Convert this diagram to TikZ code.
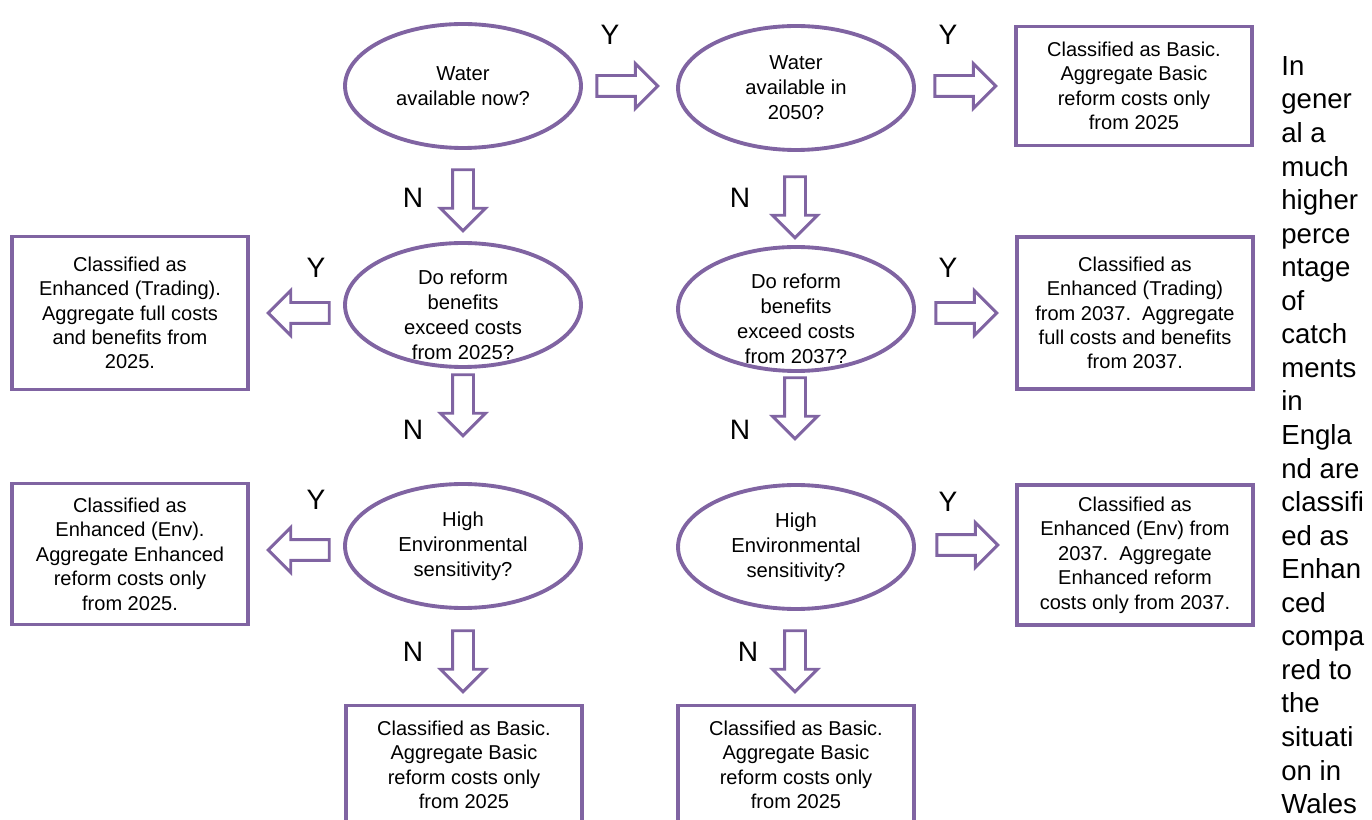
\documentclass[tikz,border=0pt]{standalone}
\usepackage{fontspec}
\setmainfont{Liberation Sans}
\usetikzlibrary{shapes.geometric,shapes.arrows}
\definecolor{framepurple}{RGB}{128,100,162}

\begin{document}
\begin{tikzpicture}[x=0.02cm,y=-0.02cm,
  question/.style={ellipse,draw=framepurple,line width=2.2pt,minimum width=4.72cm,
                   minimum height=2.48cm,inner sep=0pt,align=center,
                   font=\fontsize{11.5}{14.2}\selectfont},
  qtext/.style={align=center,inner sep=0pt,font=\fontsize{11.5}{14.2}\selectfont},
  outcome/.style={rectangle,draw=framepurple,line width=2.2pt,minimum width=4.72cm,
                  inner sep=0pt,align=center,font=\fontsize{11.4}{13.9}\selectfont},
  blockarr/.style={single arrow,draw=framepurple,line width=1.7pt,minimum height=1.22cm,
                   inner xsep=0pt,inner ysep=0.18cm,single arrow head extend=0.24cm},
  downarr/.style={blockarr,shape border rotate=270,inner xsep=0.18cm,inner ysep=0pt}
]
\useasboundingbox (0,0) rectangle (1372,820);
\clip (0,0) rectangle (1372,820);

\node[question] (q1) at (463,86)  {Water\\available now?};
\node[question] (q2) at (796,88)  {Water\\available in\\2050?};
\node[question,label={[qtext,yshift=-0.2cm]center:{Do reform\\benefits\\exceed costs\\from 2025?}}]
  (q3) at (463,305) {};
\node[question,label={[qtext,yshift=-0.2cm]center:{Do reform\\benefits\\exceed costs\\from 2037?}}]
  (q4) at (796,309) {};
\node[question] (q5) at (463,546) {High\\Environmental\\sensitivity?};
\node[question] (q6) at (796,547) {High\\Environmental\\sensitivity?};

\node[outcome,minimum height=2.38cm] (r1) at (1134,86)
  {Classified as Basic.\\Aggregate Basic\\reform costs only\\from 2025};
\node[outcome,minimum height=3.06cm] (l1) at (130,313)
  {Classified as\\Enhanced (Trading).\\Aggregate full costs\\and benefits from\\2025.};
\node[outcome,minimum height=3.04cm] (r2) at (1135,313)
  {Classified as\\Enhanced (Trading)\\from 2037.\ \ Aggregate\\full costs and benefits\\from 2037.};
\node[outcome,minimum height=2.82cm] (l2) at (130,554)
  {Classified as\\Enhanced (Env).\\Aggregate Enhanced\\reform costs only\\from 2025.};
\node[outcome,minimum height=2.80cm] (r3) at (1135,555)
  {Classified as\\Enhanced (Env) from\\2037.\ \ Aggregate\\Enhanced reform\\costs only from 2037.};
\node[outcome,minimum height=2.38cm] (b1) at (464,765)
  {Classified as Basic.\\Aggregate Basic\\reform costs only\\from 2025};
\node[outcome,minimum height=2.38cm] (b2) at (796,765)
  {Classified as Basic.\\Aggregate Basic\\reform costs only\\from 2025};

\node[blockarr] (a12)  at (622,86)  {};
\node[blockarr] (a2r1) at (960,86)  {};
\node[blockarr] (a4r2) at (961,313) {};
\node[blockarr] (a6r3) at (962,545) {};
\node[blockarr,shape border rotate=180] (a3l1) at (304,313) {};
\node[blockarr,shape border rotate=180] (a5l2) at (304,550) {};
\node[downarr] (a13)  at (463,195) {};
\node[downarr] (a24)  at (795,202) {};
\node[downarr] (a35)  at (463,400) {};
\node[downarr] (a46)  at (795,403) {};
\node[downarr] (a5b1) at (463,656) {};
\node[downarr] (a6b2) at (795,656) {};

\node[font=\fontsize{16}{19}\selectfont] (y1) at (610,35)  {Y};
\node[font=\fontsize{16}{19}\selectfont] (y2) at (948,35)  {Y};
\node[font=\fontsize{16}{19}\selectfont] (y3) at (316,268) {Y};
\node[font=\fontsize{16}{19}\selectfont] (y4) at (948,268) {Y};
\node[font=\fontsize{16}{19}\selectfont] (y5) at (316,500) {Y};
\node[font=\fontsize{16}{19}\selectfont] (y6) at (948,502) {Y};
\node[font=\fontsize{16}{19}\selectfont] (n1) at (413,198) {N};
\node[font=\fontsize{16}{19}\selectfont] (n2) at (740,198) {N};
\node[font=\fontsize{16}{19}\selectfont] (n3) at (413,430) {N};
\node[font=\fontsize{16}{19}\selectfont] (n4) at (740,430) {N};
\node[font=\fontsize{16}{19}\selectfont] (n5) at (413,652) {N};
\node[font=\fontsize{16}{19}\selectfont] (n6) at (748,652) {N};

\node[anchor=north west,inner sep=0pt,align=left,font=\fontsize{15.7}{19.1}\selectfont] (note) at (1281,56)
  {In\\gener\\al a\\much\\higher\\perce\\ntage\\of\\catch\\ments\\in\\Engla\\nd are\\classifi\\ed as\\Enhan\\ced\\compa\\red to\\the\\situati\\on in\\Wales};
\end{tikzpicture}
\end{document}
